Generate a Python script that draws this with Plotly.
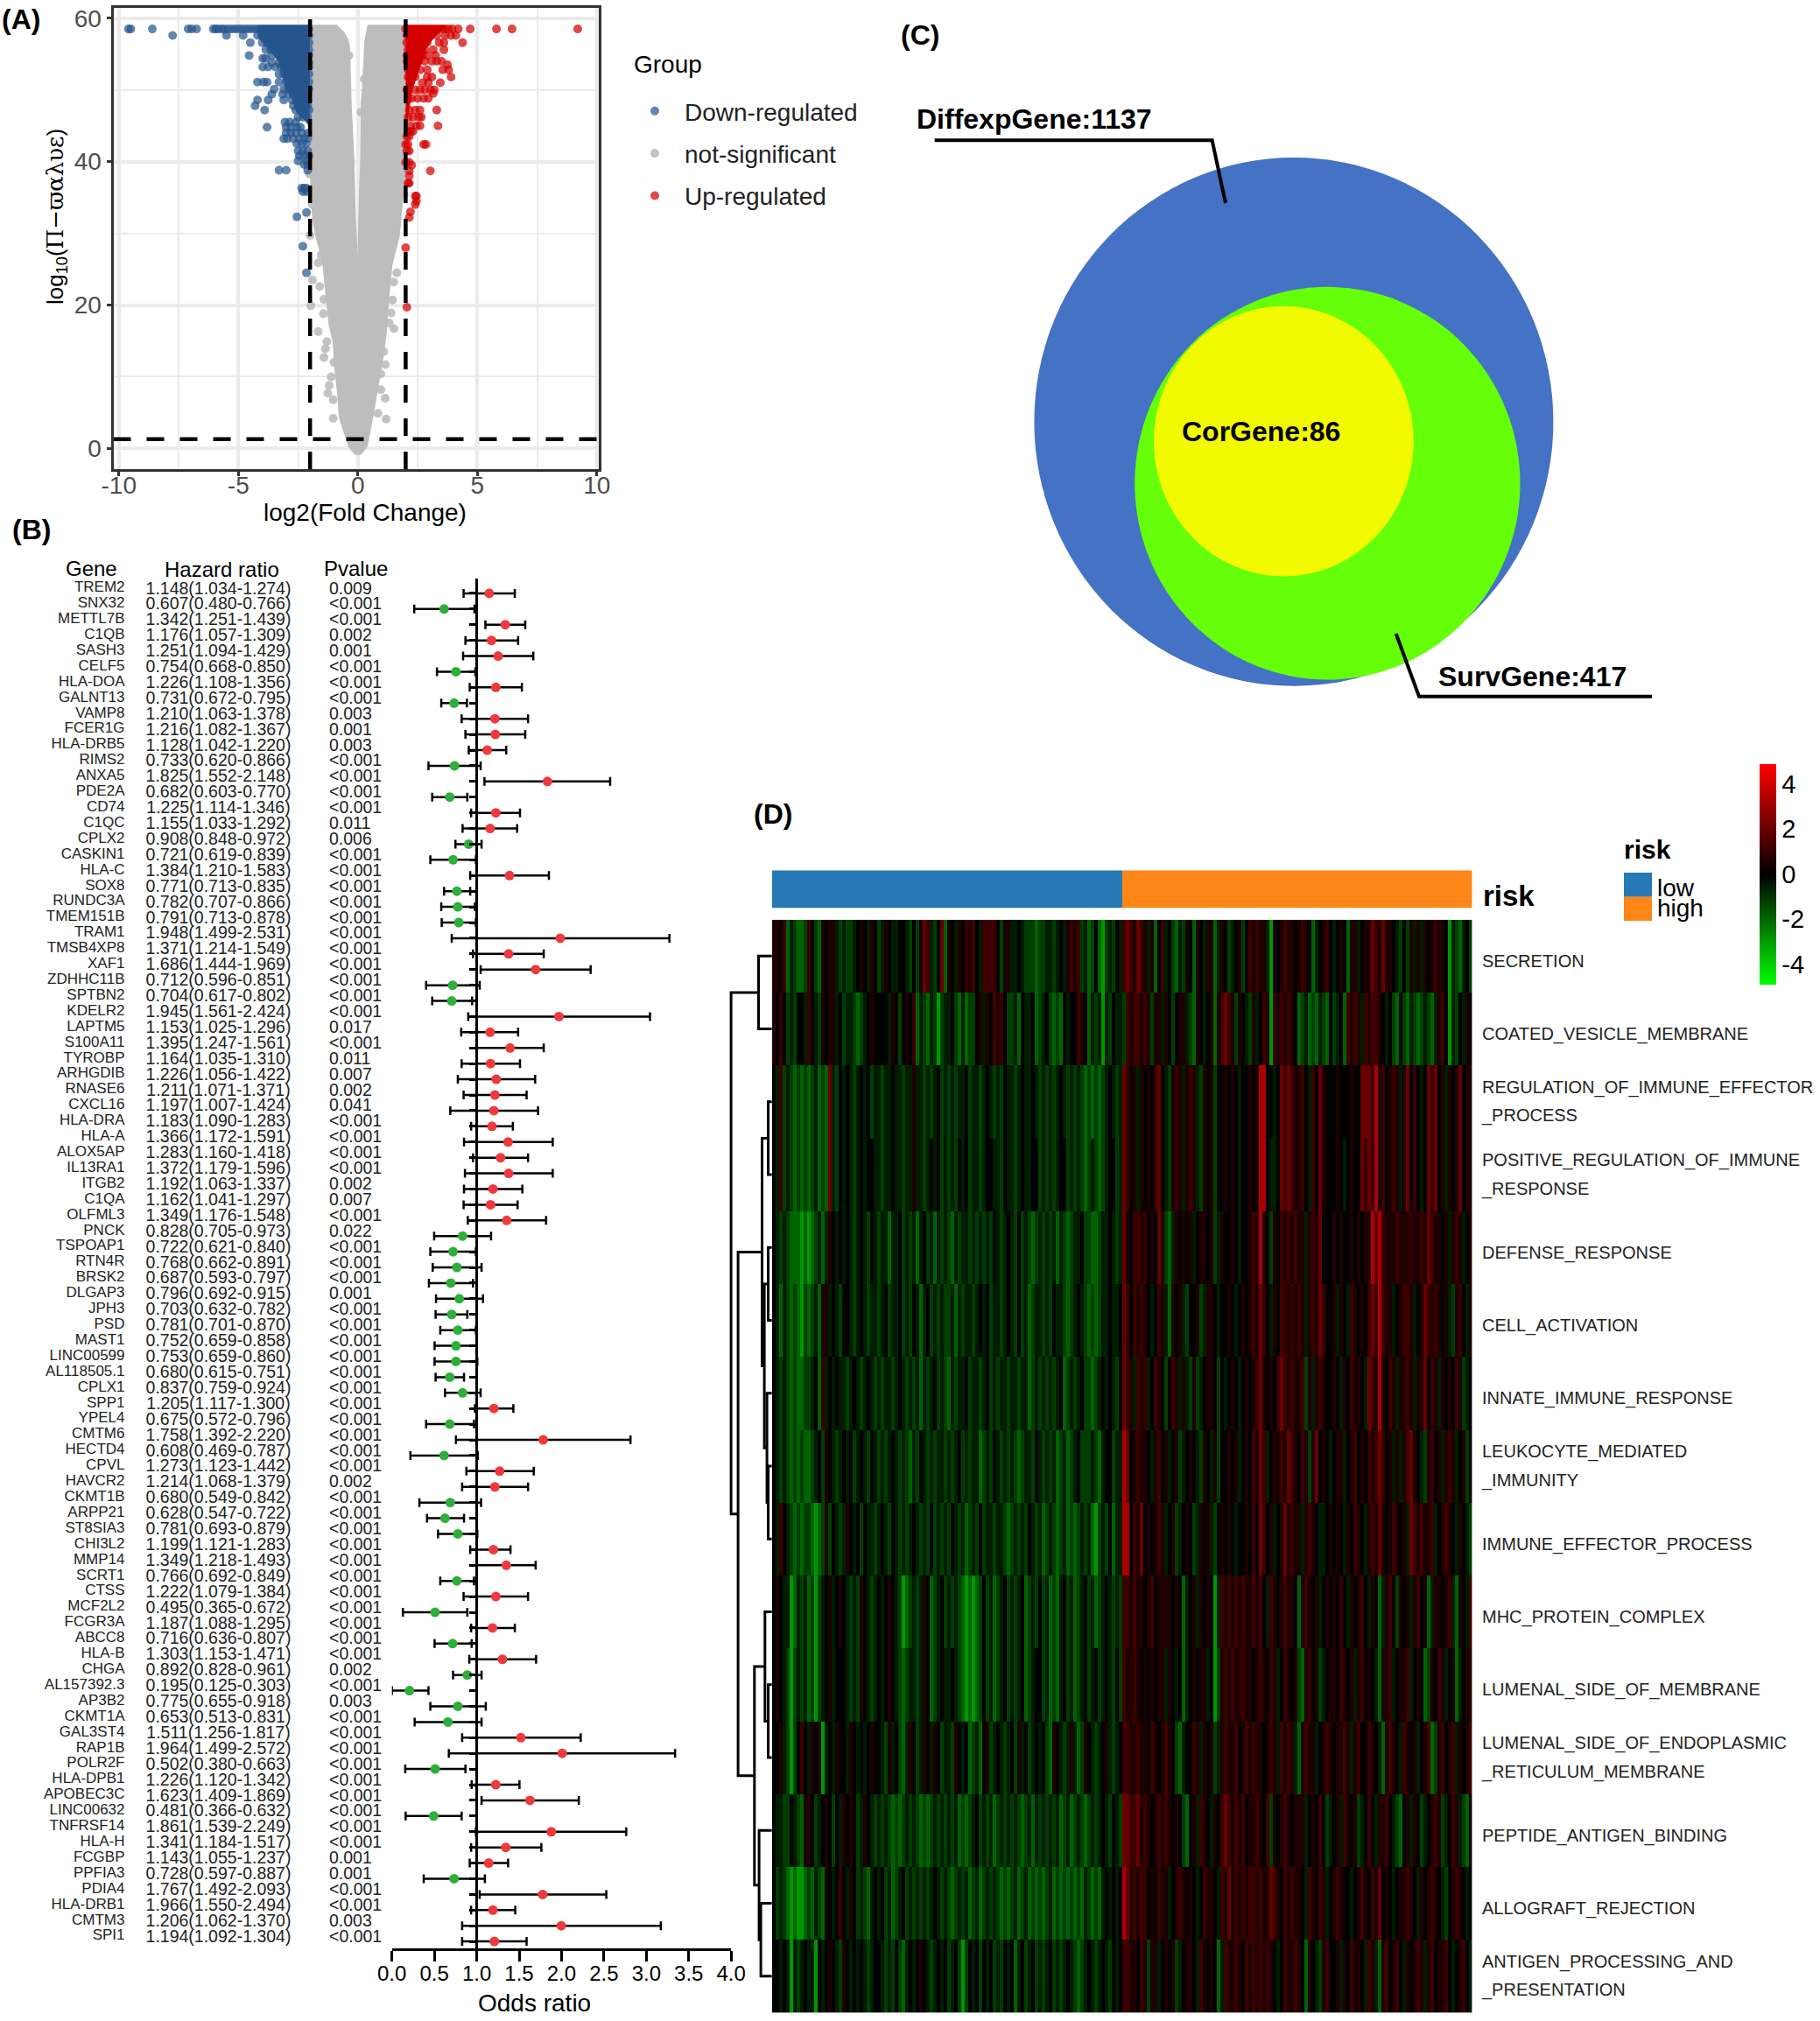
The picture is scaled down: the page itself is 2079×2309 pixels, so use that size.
import plotly.graph_objects as go

W, H = 2079, 2309
SANS = "Liberation Sans"

# ---------- Panel A: volcano ----------
down_levels = {
    58.5: [-9.6,-9.5,-8.6,-7.1,-6.95,-6.75,-6.05,-5.95,-5.85,-5.7,-5.6,-5.45,-5.3,-5.15,-5.0,-4.85,-4.7,-4.55,-4.4,-4.25,-4.1,-3.95,-3.8,-3.65,-3.5,-3.35,-3.2,-3.05,-2.9,-2.75,-2.6,-2.45,-2.3,-2.15,-2.05],
    57.6: [-7.75,-5.5,-4.8,-4.2,-4.0,-3.8,-3.6,-3.4,-3.2,-3.0,-2.8,-2.6,-2.4,-2.2,-2.05],
    56.6: [-4.5,-4.0,-3.8,-3.6,-3.4,-3.2,-3.0,-2.8,-2.6,-2.4,-2.2,-2.05],
    55.6: [-3.85,-3.65,-3.4,-3.2,-3.0,-2.8,-2.6,-2.4,-2.2,-2.05],
    54.8: [-4.55,-3.6,-3.3,-3.1,-2.9,-2.7,-2.5,-2.3,-2.05],
    54.4: [-3.98,-3.86],
    53.8: [-3.6,-3.3,-3.05,-2.85,-2.65,-2.45,-2.25,-2.05],
    53.2: [-3.98,-3.75,-3.45,-3.2,-3.0,-2.8,-2.6,-2.4,-2.2,-2.05],
    52.2: [-3.3,-3.1,-2.9,-2.7,-2.5,-2.3,-2.05],
    51.1: [-4.2,-3.95,-3.8,-3.3,-3.0,-2.8,-2.6,-2.4,-2.2,-2.05],
    50.1: [-3.5,-3.1,-2.9,-2.7,-2.5,-2.3,-2.05],
    49.4: [-3.6,-3.15,-2.9,-2.7,-2.5,-2.3,-2.1],
    48.6: [-4.2,-3.75,-3.1,-2.75,-2.55,-2.35,-2.1],
    47.8: [-4.3,-2.7,-2.5,-2.3,-2.1],
    47.2: [-3.9,-2.6,-2.4,-2.2,-2.05],
    46.2: [-2.5,-2.3,-2.1],
    45.5: [-3.05,-2.85,-2.6],
    44.8: [-3.8,-3.0,-2.8,-2.55,-2.4],
    44.0: [-3.0,-2.8,-2.6,-2.35,-2.1],
    43.2: [-3.1,-2.95,-2.7,-2.45,-2.25,-2.1],
    42.5: [-2.55,-2.35,-2.15],
    41.5: [-2.5,-2.3,-2.1],
    40.8: [-2.45,-2.25,-2.05],
    40.1: [-2.5,-2.15],
    39.6: [-2.25,-2.1],
    38.8: [-3.3,-3.0,-2.1],
    36.3: [-2.35,-2.25,-2.15],
    35.8: [-2.3,-2.15],
    32.9: [-2.15],
    32.3: [-2.55],
    28.2: [-2.3],
    24.5: [-2.15],
}
up_levels = {
    58.5: [2.0,2.15,2.3,2.45,2.6,2.75,2.9,3.05,3.2,3.35,3.5,3.65,3.8,3.95,4.2,4.7,5.8,6.45,9.2],
    57.6: [2.05,2.25,2.45,2.65,2.85,3.05,3.3,3.65,3.9,4.1],
    56.6: [2.05,2.25,2.45,2.65,2.9,3.4,3.6,4.38],
    55.6: [2.1,2.3,2.5,2.8,3.15,3.6],
    54.8: [2.05,2.25,2.45,2.7,2.9,3.25],
    54.0: [2.05,2.3,2.55,2.8,3.1,3.3,3.5],
    53.5: [3.75],
    52.8: [2.1,2.3,2.6,2.9,3.55,3.8],
    51.8: [2.1,2.4,2.9,3.1,3.9],
    51.0: [2.7,2.95,3.45],
    50.0: [2.05,2.4,2.6,2.8,3.05,3.2],
    49.5: [3.15],
    48.8: [2.1,2.25,2.5,2.75,2.95],
    47.2: [2.15,2.4,2.6,3.3],
    46.2: [2.1,2.3,2.55,2.65],
    45.0: [2.2,2.45,2.6,3.35],
    44.2: [2.1,2.2,2.3],
    43.5: [2.05,2.15],
    42.4: [2.0,2.1,2.75,2.85],
    41.5: [2.05,2.15],
    39.9: [2.0,2.15],
    39.5: [2.25],
    38.7: [2.15,3.03],
    38.0: [2.15],
    37.0: [2.1,2.15],
    35.2: [2.4,2.45],
    34.5: [2.45],
    34.0: [2.4],
    33.0: [2.2],
    32.2: [2.15],
    28.0: [2.0],
    19.7: [2.05],
}
down_dense_x = [-2.0,-4.15,-4.15,-3.65,-3.3,-3.15,-2.95,-2.75,-2.55,-2.25,-2.0]
down_dense_y = [58.9,58.9,57.4,55.5,54,52,50,49,47,46,45]
up_dense_x = [2.0,3.65,3.2,2.85,2.65,2.45,2.25,2.15,2.05,2.0]
up_dense_y = [58.9,58.9,57.5,56,54,52,50,48,46,44]
ns_edge_x = [-1.97,-0.9,-0.62,-0.45,-0.38,-0.36,-0.32,-0.26,-0.2,-0.17,-0.14,-0.08,-0.04,-0.02,0.0,0.05,0.07,0.1,0.15,0.17,0.17,0.22,0.29,0.33,0.45,1.94,1.96,1.93,1.85,1.75,1.69,1.5,1.39,1.27,1.2,1.15,1.03,0.84,0.65,0.48,0.35,0.1,-0.1,-0.35,-0.5,-0.74,-0.8,-0.93,-1.0,-1.17,-1.3,-1.42,-1.55,-1.72,-1.85,-1.9,-1.95,-1.97]
ns_edge_y = [58.9,58.9,58,57,56,52,48.5,44.4,40.3,36.3,32.2,28,22,14.9,22,28,32,36,40,44,48,50,54,57,58.9,58.9,42,38,35,32,29.5,27,25.5,21.4,18,16,13,9,5.5,2.5,0.3,-0.7,-0.7,0.3,1.9,4.3,7.2,11.2,14.9,17.3,21.4,25.5,27.5,29.5,32,34,38,42]
ns_x = [-0.38,0.26,0.13,-2.03,-1.9,-2.0,1.63,2.0,1.94,-1.9,-1.97,-1.6,-1.54,-1.66,-1.42,-1.44,-1.66,-1.3,-1.36,-1.42,-1.12,-1.2,-1.26,-1.03,-1.03,-1.0,1.63,1.5,1.45,1.39,1.51,1.31,1.08,1.15,0.96,1.14,0.84,1.18,0.96]
ns_y = [54.8,51.5,46.9,38.3,34.0,29.7,31.2,37.0,35.4,23.5,19.9,22.6,27.0,25.9,20.8,18.8,16.3,14.9,13.9,12.7,10.0,8.8,7.7,6.8,4.2,12.0,24.5,23.2,20.7,18.9,16.7,17.5,13.5,11.7,8.2,7.0,4.9,4.1,10.4]
fc_cuts = [-2, 2]
p_cut = 1.3

# ---------- Panel B: forest ----------
genes = ["TREM2","SNX32","METTL7B","C1QB","SASH3","CELF5","HLA-DOA","GALNT13","VAMP8","FCER1G","HLA-DRB5","RIMS2","ANXA5","PDE2A","CD74","C1QC","CPLX2","CASKIN1","HLA-C","SOX8","RUNDC3A","TMEM151B","TRAM1","TMSB4XP8","XAF1","ZDHHC11B","SPTBN2","KDELR2","LAPTM5","S100A11","TYROBP","ARHGDIB","RNASE6","CXCL16","HLA-DRA","HLA-A","ALOX5AP","IL13RA1","ITGB2","C1QA","OLFML3","PNCK","TSPOAP1","RTN4R","BRSK2","DLGAP3","JPH3","PSD","MAST1","LINC00599","AL118505.1","CPLX1","SPP1","YPEL4","CMTM6","HECTD4","CPVL","HAVCR2","CKMT1B","ARPP21","ST8SIA3","CHI3L2","MMP14","SCRT1","CTSS","MCF2L2","FCGR3A","ABCC8","HLA-B","CHGA","AL157392.3","AP3B2","CKMT1A","GAL3ST4","RAP1B","POLR2F","HLA-DPB1","APOBEC3C","LINC00632","TNFRSF14","HLA-H","FCGBP","PPFIA3","PDIA4","HLA-DRB1","CMTM3","SPI1"]
hr_text = ["1.148(1.034-1.274)","0.607(0.480-0.766)","1.342(1.251-1.439)","1.176(1.057-1.309)","1.251(1.094-1.429)","0.754(0.668-0.850)","1.226(1.108-1.356)","0.731(0.672-0.795)","1.210(1.063-1.378)","1.216(1.082-1.367)","1.128(1.042-1.220)","0.733(0.620-0.866)","1.825(1.552-2.148)","0.682(0.603-0.770)","1.225(1.114-1.346)","1.155(1.033-1.292)","0.908(0.848-0.972)","0.721(0.619-0.839)","1.384(1.210-1.583)","0.771(0.713-0.835)","0.782(0.707-0.866)","0.791(0.713-0.878)","1.948(1.499-2.531)","1.371(1.214-1.549)","1.686(1.444-1.969)","0.712(0.596-0.851)","0.704(0.617-0.802)","1.945(1.561-2.424)","1.153(1.025-1.296)","1.395(1.247-1.561)","1.164(1.035-1.310)","1.226(1.056-1.422)","1.211(1.071-1.371)","1.197(1.007-1.424)","1.183(1.090-1.283)","1.366(1.172-1.591)","1.283(1.160-1.418)","1.372(1.179-1.596)","1.192(1.063-1.337)","1.162(1.041-1.297)","1.349(1.176-1.548)","0.828(0.705-0.973)","0.722(0.621-0.840)","0.768(0.662-0.891)","0.687(0.593-0.797)","0.796(0.692-0.915)","0.703(0.632-0.782)","0.781(0.701-0.870)","0.752(0.659-0.858)","0.753(0.659-0.860)","0.680(0.615-0.751)","0.837(0.759-0.924)","1.205(1.117-1.300)","0.675(0.572-0.796)","1.758(1.392-2.220)","0.608(0.469-0.787)","1.273(1.123-1.442)","1.214(1.068-1.379)","0.680(0.549-0.842)","0.628(0.547-0.722)","0.781(0.693-0.879)","1.199(1.121-1.283)","1.349(1.218-1.493)","0.766(0.692-0.849)","1.222(1.079-1.384)","0.495(0.365-0.672)","1.187(1.088-1.295)","0.716(0.636-0.807)","1.303(1.153-1.471)","0.892(0.828-0.961)","0.195(0.125-0.303)","0.775(0.655-0.918)","0.653(0.513-0.831)","1.511(1.256-1.817)","1.964(1.499-2.572)","0.502(0.380-0.663)","1.226(1.120-1.342)","1.623(1.409-1.869)","0.481(0.366-0.632)","1.861(1.539-2.249)","1.341(1.184-1.517)","1.143(1.055-1.237)","0.728(0.597-0.887)","1.767(1.492-2.093)","1.966(1.550-2.494)","1.206(1.062-1.370)","1.194(1.092-1.304)"]
pvals = ["0.009","<0.001","<0.001","0.002","0.001","<0.001","<0.001","<0.001","0.003","0.001","0.003","<0.001","<0.001","<0.001","<0.001","0.011","0.006","<0.001","<0.001","<0.001","<0.001","<0.001","<0.001","<0.001","<0.001","<0.001","<0.001","<0.001","0.017","<0.001","0.011","0.007","0.002","0.041","<0.001","<0.001","<0.001","<0.001","0.002","0.007","<0.001","0.022","<0.001","<0.001","<0.001","0.001","<0.001","<0.001","<0.001","<0.001","<0.001","<0.001","<0.001","<0.001","<0.001","<0.001","<0.001","0.002","<0.001","<0.001","<0.001","<0.001","<0.001","<0.001","<0.001","<0.001","<0.001","<0.001","<0.001","0.002","<0.001","0.003","<0.001","<0.001","<0.001","<0.001","<0.001","<0.001","<0.001","<0.001","<0.001","0.001","0.001","<0.001","<0.001","0.003","<0.001"]
or_mid = [1.147,0.615,1.337,1.174,1.253,0.755,1.225,0.733,1.214,1.219,1.124,0.738,1.834,0.682,1.225,1.158,0.906,0.721,1.387,0.766,0.777,0.789,1.985,1.376,1.695,0.716,0.705,1.969,1.158,1.393,1.163,1.23,1.214,1.202,1.18,1.37,1.281,1.376,1.191,1.163,1.353,0.833,0.721,0.766,0.694,0.794,0.705,0.777,0.755,0.755,0.682,0.833,1.202,0.682,1.784,0.615,1.27,1.214,0.688,0.626,0.777,1.197,1.348,0.766,1.225,0.509,1.186,0.716,1.303,0.889,0.207,0.777,0.66,1.521,2.008,0.509,1.225,1.628,0.492,1.879,1.342,1.141,0.733,1.778,1.191,1.997,1.208]
or_lo = [0.845,0.263,1.102,0.867,0.839,0.531,0.917,0.582,0.822,0.867,0.906,0.431,1.091,0.475,0.934,0.833,0.749,0.453,0.923,0.615,0.582,0.587,0.705,0.956,1.046,0.403,0.475,0.9,0.817,1.001,0.822,0.777,0.845,0.688,0.934,0.85,0.956,0.861,0.85,0.845,0.895,0.498,0.453,0.481,0.436,0.52,0.515,0.57,0.503,0.503,0.515,0.626,0.979,0.403,0.755,0.218,0.878,0.828,0.324,0.414,0.543,0.923,1.001,0.57,0.845,0.129,0.934,0.503,0.912,0.721,0.0,0.453,0.268,0.828,0.671,0.157,0.94,1.057,0.162,0.99,0.934,0.917,0.375,1.035,0.934,0.828,0.828]
or_hi = [1.449,0.973,1.572,1.488,1.667,0.984,1.532,0.884,1.605,1.572,1.348,1.046,2.573,0.889,1.51,1.477,1.057,0.99,1.851,0.923,0.979,0.99,3.272,1.79,2.343,1.035,0.945,3.043,1.488,1.79,1.51,1.689,1.588,1.723,1.426,1.896,1.605,1.896,1.538,1.482,1.818,1.169,0.99,1.057,0.956,1.074,0.889,0.99,1.001,1.007,0.85,1.046,1.432,0.968,2.813,1.012,1.672,1.605,1.051,0.85,1.007,1.398,1.695,0.968,1.605,0.889,1.449,0.94,1.7,1.057,0.431,1.107,1.057,2.226,3.339,0.867,1.504,2.204,0.822,2.763,1.762,1.37,1.096,2.528,1.454,3.171,1.588]
or_ticks = [0.0,0.5,1.0,1.5,2.0,2.5,3.0,3.5,4.0]

# ---------- Panel C: nested sets (bounds read in picture units) ----------
set_fill = ["#4472C4", "#66FF0A", "#F2FA02"]
set_left = [1181.4, 1296.2, 1318.0]
set_right = [1774.4, 1736.5, 1614.8]
set_top = [180.0, 327.8, 349.8]
set_bottom = [783.8, 776.6, 658.4]
lead1_x = [1067.7, 1384.6, 1400.0]
lead1_y = [160.3, 160.3, 232.0]
lead2_x = [1594.7, 1621.0, 1887.0]
lead2_y = [724.0, 795.7, 795.7]

# ---------- Panel D: heat map (one letter per stripe) ----------
stripe_value = {"G":-2.9,"g":-1.9,"d":-1.2,"k":-0.55,"0":0.0,"r":0.6,"s":1.15,"t":2.0,"T":3.3}
ROW_00_LOW  = "rr0sgkdggd s0dgr0rrkd kddk0r0kr0 dkr0kk00kd 0drtskd0tg r0kr0srs0k ssss0drrkk 0kdddgddkk dk0krsrsdk gd0gGdkd0k"
ROW_00_HIGH = "stsrtsrkrg 0sk0dgkdr0 gr0krrgkr0 dk0rd0srsr rkGr0rsrr0 rsr0gk0rs0 k0r0grrk0r rtsrtrr0kd 0drkrkr0rs rr0Gkdgk0d"
ROW_01_LOW  = "r0s0dkd00k s0kdr0rrk0 dkkdgdk0r0 000kr0d0r0 sgkdgkdGdk k0dgkgdd0r kr0srs0ddk g0kk0gdk0d gdg0k00sr0 gkdkGkd0kk"
ROW_01_HIGH = "dsrssrsrdr rkr0d0rrkd gr0k0rgrst srdr0kdrk0 srGsrsrsr0 gdkgdgkdg0 dk0gsrsrks rssr0k0dg0 dgkdgdkdgk rs0Gkd0kr0"
ROW_02_LOW  = "0ksdkdgdgd gdkgdgtkd0 k0kdk0k0dk kdkk0kkdkk rkkdkdk0dk dkdkk0dkkd k0kdkd0kkd k0kk0kdkdk dk0kdkdkdg dgdgdk0kdk"
ROW_02_HIGH = "ts0rkr0r0s t0kdrsrkrs rkdr0rd00r 0r0k00r0rT T00k0tstsr rs0ks0tr00 0r000r00tt tsTrs0rsrk rt0s0k0tst 0rkr0rt0rr"
ROW_03_LOW  = "0ksdkdgdgd gdkgdgtkd0 k0kdk0k00k kdkk0kkdkk rkkdk0k0dk dkd0k0dkkd k00kkd0kkd k0kk00dkdk dk00dkdkdg dkdgdk00dk"
ROW_03_HIGH = "ts0rkr0r0s t0kdrsrkrs rkdr0rd00r 0r0k00r0rT T0kk0tstsr rs0ks0tr00 0r0k0r00ts tsTrs0rsrk rt0s0k0tst 0rkr0rt0rr"
ROW_04_LOW  = "0kdkdgggGg Ggdkgkr0k0 k0kdk0kd0k dkkgkk0dkd kgk0dkgkdk dgkdkkdkdk dkd0kdk0kd 0dkdgdkdkd kgkdgdkk0d dggdkk0kdk"
ROW_04_HIGH = "tr0ssrs0r0 trdgkr0r0r k0rr0rdkr0 0r0k00rsrT r0dr0srsrs rrkrsrt000 r0r00r0r0r rTtTsrrrsr rrsrrsrtsr r0rkrsrk0r"
ROW_05_LOW  = "0kgkdgdgGd gdkgrrk0kd 00kdk0kdkk dk0dkk0dkd 0kgk0dkdkd dkgkdkkdk0 k0dkkdk0kd 0dkgdkkdkd 0kkdgdk0kd gdgdkk0kk0"
ROW_05_HIGH = "ts0srsr0k0 srkgr0rkd0 0rdkrr0k00 r0k0r0rsrt s0kr0ssrsr srkrsrts00 rkr0ksr0r0 stsTsrrk0r ssrk0rtsrs r0rkdrs0kr"
ROW_06_LOW  = "0kdkdgdggd dk0gsk0k0k kdk0kdk0kd kdkkdk0kdk dkgkdk0dkd gkdkk0dkkd k0dkdkkdkk dkkgdkdkdk dk0gdkdk0d dgdk0k0kd0"
ROW_06_HIGH = "tsrksrsk0s r0d0srkrkd rdk0rr0d0k 0r0k0r0rst r0r0stsrsr rsdrkrsr00 r0kr0srr0k tsrTr0srkr rsrkrrt0sr kr0r0srdk0"
ROW_07_LOW  = "0kdkdgdgdg gdk0dr0kdk 0k0dk0kd0k dkdk0kdkdg kd0kdkdkkd kdk0dkdkkg dkd0kdkdkd gdkkd0kdkd kgdkgdk0dd dkdgk00dkk"
ROW_07_HIGH = "Tt0rsrr0kr s0rk0rdk0r 0kdr0krd00 r0rk0r0srt sk0rrsrtsr 0srdrt0r0k 0rrk0rs0r0 srsts0rkrk rstr0kdrs0 rkrsrk0rd0"
ROW_08_LOW  = "0ks0kdgdgd dgGgdrd0kd kr0k0d0kkd k0kd0kdkdk 0kdkd0dkdk d0kdkgdkd0 dkkdkkdgdk dkd0kdkgdk dgdkgdgdkd kgGdkd0gkk"
ROW_08_HIGH = "TT0srt0r0r srk0rdk0r0 dkr0rkd0r0 r0k00r0s0t s0rk0rtrsr rkrsr0kk0r 0r0kr0sr0k rsrtr0rsr0 rktsrsrrsk 0rsr0kr0kd"
ROW_09_LOW  = "0r0kkGgkdk gdGdk0rk0r 0kdkdr0kdk 0k0r0kdGgd kdkr0gdk0d kdkdgGgGgd 0dkgdk0dkd k0gdkd0dkg dgk0dkgdk0 dkgdk0kdkd"
ROW_09_HIGH = "ssrsrr0rs0 rrrr0r0gk0 rkr0r0Gksr srsrsrrsrs 0ksr0rsrr0 grsr0rk0r0 r0s0kr0rs0 kr0gkrs0dr 0rkrs0rgkr r0rskgr0ks"
ROW_10_LOW  = "0r0kdGdkdk gdGdk0rk00 0kdkdr0kdk 0k0r0kdgdk kdkr0gdk0k k0kdgGgGgd 0dkgdk0dkd k0gdk00dkg dgk0dkgdk0 dk0dk0kd0d"
ROW_10_HIGH = "srrsr0r0r0 rrkr0k0gk0 r0rrk0Gdrs rsrrsrr0rs r0srk0sr0r dgrs0rdk0r r0sr0rkrs0 r0kgrrsk0r rsk0r0gdr0 srk0rgk0rr"
ROW_11_LOW  = "00rkdGd0s0 kr0rGk0kr0 0kr0k0k0r0 0kdrk0dgkr 0dkr0kr0dk kdr0k0gdkg 0rdk0kdk0d rk0dk0k0dg r0kdkrkgdr 0kdk0rkdk0"
ROW_11_HIGH = "ssrrsrr0sr 0rsr0dgk00 srkr0rdkrs rrs0rsrsrr 0rsrksrsrk grsrrk0rsr 0rrsrkrs00 sr0kgrsr0k sr0rk0rsgd rs0rskr0rs"
ROW_12_LOW  = "0kkdd0kdgr r0dk0r0d0k r0r0dkr0kd kdkdgdgdkd kdgdgdkdkd kdkgdgdk0d kdkgdkdkdk dgdkgkdkdk dkgdkgdkdg dkdk0kd0kd"
ROW_12_HIGH = "ttsstrsr0r srsr0r0dg0 rksr0kr0st srsrs0rrsr 0sdr0rsr0r rrk0r0s0dk 0rksr0rdk0 s0krrs0kdg 0rkr0dk0rs rdk0srkdg0"
ROW_13_LOW  = "0dkdgGgGGg dgkdgr0k0s 0kr0dkdgk0 k0dkgdk0dk dkdkdk0kdk dgdkdkgdkg dkdkdgdgdk gdkgdgdgdk gdgdgdgdgk dgdgk0k0k0"
ROW_13_HIGH = "Ttrsrss0r0 srrk0rsr0r 0k0srr0ksr trsrsrssrs rrtsr0srsr r0ksr0srk0 rsr00k0rsr 0srt0r0k0r rsr0kr0rsr 0kd0rsr0k0"
ROW_14_LOW  = "00k0kGkdk0 kkG0k0r0kd r0k0k0kdk0 0kdkd0dgk0 k0r0kdk0k0 dk0dGd0k0d 0k0dkd0k0g k0dk0dkdk0 dkdk0kdgdk 0kdk0kd0k0"
ROW_14_HIGH = "ssrr0srdrr k0r0rdk0rr 0ksr0r0gks rrsr0srsrs rsr0k0srrs r0gr0kdrs0 0rkr0srr0k srkgrs0rs0 kr0rsrkrs0 rrs0k0rs0k"

heat_rows = [
    (ROW_00_LOW, ROW_00_HIGH), (ROW_01_LOW, ROW_01_HIGH), (ROW_02_LOW, ROW_02_HIGH),
    (ROW_03_LOW, ROW_03_HIGH), (ROW_04_LOW, ROW_04_HIGH), (ROW_05_LOW, ROW_05_HIGH),
    (ROW_06_LOW, ROW_06_HIGH), (ROW_07_LOW, ROW_07_HIGH), (ROW_08_LOW, ROW_08_HIGH),
    (ROW_09_LOW, ROW_09_HIGH), (ROW_10_LOW, ROW_10_HIGH), (ROW_11_LOW, ROW_11_HIGH),
    (ROW_12_LOW, ROW_12_HIGH), (ROW_13_LOW, ROW_13_HIGH), (ROW_14_LOW, ROW_14_HIGH),
]
pathways = ["SECRETION","COATED_VESICLE_MEMBRANE","REGULATION_OF_IMMUNE_EFFECTOR<br>_PROCESS","POSITIVE_REGULATION_OF_IMMUNE<br>_RESPONSE","DEFENSE_RESPONSE","CELL_ACTIVATION","INNATE_IMMUNE_RESPONSE","LEUKOCYTE_MEDIATED<br>_IMMUNITY","IMMUNE_EFFECTOR_PROCESS","MHC_PROTEIN_COMPLEX","LUMENAL_SIDE_OF_MEMBRANE","LUMENAL_SIDE_OF_ENDOPLASMIC<br>_RETICULUM_MEMBRANE","PEPTIDE_ANTIGEN_BINDING","ALLOGRAFT_REJECTION","ANTIGEN_PROCESSING_AND<br>_PRESENTATION"]
risk_low_count = 100
risk_high_count = 100
# dendrogram merges: children (row 0-14, later nodes 15+) and join height
dend_left  = [0, 2, 4, 7, 6, 17, 16, 10, 9, 13, 12, 23, 21, 15]
dend_right = [1, 3, 5, 8, 18, 19, 20, 11, 22, 14, 24, 25, 26, 27]
dend_height = [15.3, 4.3, 4.3, 4.3, 5.7, 8.7, 11.3, 4.3, 8.0, 12.7, 14.7, 20.0, 38.7, 46.7]


def dom_x(a, b):
    return [a / W, b / W]


def dom_y(top, bottom):
    return [1 - bottom / H, 1 - top / H]


annotations = []


def note(px, py, text, size, family=SANS, anchor="center", color="black", angle=0):
    annotations.append(dict(x=px / W, y=1 - py / H, xref="paper", yref="paper", text=text, showarrow=False,
                            xanchor=anchor, yanchor="middle", textangle=angle,
                            font=dict(family=family, size=size, color=color)))


fig = go.Figure()

# --- A ---
def flatten(levels):
    xs, ys = [], []
    for level, values in levels.items():
        for v in values:
            xs.append(v)
            ys.append(level)
    return xs, ys


fig.add_trace(go.Scatter(x=ns_edge_x, y=ns_edge_y, mode="lines", fill="toself", fillcolor="#bdbdbd",
                         line=dict(color="#bdbdbd", width=3), showlegend=False, hoverinfo="skip"))
fig.add_trace(go.Scatter(x=ns_x, y=ns_y, mode="markers", name="not-significant", legendgroup="b", legendrank=2,
                         marker=dict(color="#bdbdbd", size=10, opacity=0.9)))
fig.add_trace(go.Scatter(x=down_dense_x, y=down_dense_y, mode="lines", fill="toself", fillcolor="#2a5488",
                         line=dict(color="#2a5488", width=2), showlegend=False, hoverinfo="skip"))
fig.add_trace(go.Scatter(x=up_dense_x, y=up_dense_y, mode="lines", fill="toself", fillcolor="#cc0000",
                         line=dict(color="#cc0000", width=2), showlegend=False, hoverinfo="skip"))
dx_, dy_ = flatten(down_levels)
fig.add_trace(go.Scatter(x=dx_, y=dy_, mode="markers", name="Down-regulated", legendgroup="a", legendrank=1,
                         marker=dict(color="#27568f", size=10, opacity=0.72)))
ux_, uy_ = flatten(up_levels)
fig.add_trace(go.Scatter(x=ux_, y=uy_, mode="markers", name="Up-regulated", legendgroup="c", legendrank=3,
                         marker=dict(color="#d40000", size=10, opacity=0.72)))
x_rng = [-10.23, 10.08]
y_rng = [-2.88, 61.44]
for c in fc_cuts:
    fig.add_trace(go.Scatter(x=[c, c], y=y_rng, mode="lines", showlegend=False, hoverinfo="skip",
                             line=dict(color="black", width=4.5, dash="20px,18px")))
fig.add_trace(go.Scatter(x=x_rng, y=[p_cut, p_cut], mode="lines", showlegend=False, hoverinfo="skip",
                         line=dict(color="black", width=4.5, dash="20px,18px")))
grid = "#ebebeb"
fig.update_layout(
    xaxis=dict(domain=dom_x(129.5, 684), range=x_rng, anchor="y", tickvals=[-10, -5, 0, 5, 10],
               ticktext=["-10", "-5", "0", "5", "10"], tickfont=dict(family=SANS, size=28, color="#4d4d4d"),
               showgrid=True, gridcolor=grid, gridwidth=4, zeroline=False, showline=True, mirror=True,
               linecolor="#333333", linewidth=3, ticks="outside", ticklen=5, tickwidth=3, tickcolor="#333333",
               ticklabelstandoff=-14,
               minor=dict(tickvals=[-7.5, -2.5, 2.5, 7.5], showgrid=True, gridcolor=grid, gridwidth=2, ticks="")),
    yaxis=dict(domain=dom_y(9, 536), range=y_rng, anchor="x", tickvals=[0, 20, 40, 60],
               tickfont=dict(family=SANS, size=28, color="#4d4d4d"),
               showgrid=True, gridcolor=grid, gridwidth=4, zeroline=False, showline=True, mirror=True,
               linecolor="#333333", linewidth=3, ticks="outside", ticklen=5, tickwidth=3, tickcolor="#333333",
               minor=dict(tickvals=[10, 30, 50], showgrid=True, gridcolor=grid, gridwidth=2, ticks="")),
)
note(417, 585, "log2(Fold Change)", 28)
note(64, 248, "log<sub>10</sub>(<span style=\"font-family:'DejaVu Serif'\">Π−ϖαλυε</span>)", 26, angle=-90)
note(763, 74, "Group", 28)
note(0, 22, "<b>(A)</b>", 32, anchor="left")
note(12, 605, "<b>(B)</b>", 32, anchor="left")
note(1027, 40, "<b>(C)</b>", 32, anchor="left")
note(859, 930, "<b>(D)</b>", 32, anchor="left")

# --- B ---
rows = list(range(len(genes)))
row_range = [86.44, -0.944]
is_up = [m >= 1 for m in or_mid]
for flag, col in ((False, "#2eae3a"), (True, "#ee3a3e")):
    idx = [i for i in rows if is_up[i] == flag]
    fig.add_trace(go.Scatter(
        x=[or_mid[i] for i in idx], y=idx, mode="markers", xaxis="x2", yaxis="y2", showlegend=False,
        cliponaxis=False, marker=dict(color=col, size=11),
        error_x=dict(type="data", symmetric=False, array=[or_hi[i] - or_mid[i] for i in idx],
                     arrayminus=[or_mid[i] - or_lo[i] for i in idx], color="black", thickness=2.5, width=5)))
table_font = dict(family=SANS, size=19.5, color="#222222")
fig.add_trace(go.Scatter(x=[142.5] * len(genes), y=[r - 0.33 for r in rows], text=genes, mode="text",
                         textposition="middle left", textfont=dict(family=SANS, size=17, color="#222222"),
                         xaxis="x3", yaxis="y2", showlegend=False, cliponaxis=False))
fig.add_trace(go.Scatter(x=[249.5] * len(genes), y=[r - 0.24 for r in rows], text=hr_text, mode="text",
                         textposition="middle center", textfont=table_font,
                         xaxis="x3", yaxis="y2", showlegend=False, cliponaxis=False))
fig.add_trace(go.Scatter(x=[376] * len(genes), y=[r - 0.24 for r in rows], text=pvals, mode="text",
                         textposition="middle right", textfont=table_font,
                         xaxis="x3", yaxis="y2", showlegend=False, cliponaxis=False))
fig.update_layout(
    xaxis2=dict(domain=dom_x(447.7, 835.2), range=[0, 4], anchor="y2", tickvals=or_ticks,
                ticktext=["%.1f" % t for t in or_ticks], tickfont=dict(family=SANS, size=24, color="black"),
                showgrid=False, zeroline=False, showline=True, linecolor="black", linewidth=3,
                ticks="outside", ticklen=12, tickwidth=3, tickcolor="black", ticklabelstandoff=-7),
    yaxis2=dict(domain=dom_y(661, 2226), range=row_range, anchor="free", position=544.2 / W, tickvals=rows,
                showticklabels=False, showgrid=False, zeroline=False, showline=True, linecolor="black",
                linewidth=2.5, ticks="outside", ticklen=7, tickwidth=2.5, tickcolor="black"),
    xaxis3=dict(domain=dom_x(0, 447.7), range=[0, 447.7], anchor="y2", visible=False),
)
note(104.6, 649, "Gene", 24)
note(253, 651, "Hazard ratio", 24)
note(406.5, 649, "Pvalue", 24)
note(610, 2288, "Odds ratio", 28)

# --- C ---
venn_x_span = [1040, 1900]
venn_y_span = [830, 140]
shapes = []
for fill, a, b, t, u in zip(set_fill, set_left, set_right, set_top, set_bottom):
    shapes.append(dict(type="circle", xref="x7", yref="y7", x0=a, x1=b, y0=t, y1=u, fillcolor=fill,
                       line=dict(width=0), layer="below"))
for lx, ly in ((lead1_x, lead1_y), (lead2_x, lead2_y)):
    fig.add_trace(go.Scatter(x=lx, y=ly, mode="lines", xaxis="x7", yaxis="y7", showlegend=False, hoverinfo="skip",
                             line=dict(color="black", width=4)))
fig.update_layout(
    xaxis7=dict(domain=dom_x(1040, 1900), range=venn_x_span, anchor="y7", visible=False),
    yaxis7=dict(domain=dom_y(140, 830), range=venn_y_span, anchor="x7", visible=False),
)
note(1181, 136, "<b>DiffexpGene:1137</b>", 32)
note(1440, 493, "<b>CorGene:86</b>", 32)
note(1750, 773, "<b>SurvGene:417</b>", 32)

# --- D ---
heat_z = []
for low, high in heat_rows:
    left = low.replace(" ", "").ljust(100, "0")[:100]
    right = high.replace(" ", "").ljust(100, "0")[:100]
    heat_z.append([stripe_value[ch] for ch in left + right])
fig.add_trace(go.Heatmap(
    z=heat_z, xaxis="x4", yaxis="y4", zmin=-4.9, zmax=4.9, zsmooth=False,
    colorscale=[[0, "#00ff00"], [0.5, "#000000"], [1, "#ff0000"]],
    colorbar=dict(x=2009.7 / W, xanchor="left", y=1 - 998.5 / H, yanchor="middle", len=251.6, lenmode="pixels",
                  thickness=19.2, thicknessmode="pixels", outlinewidth=0, xpad=0, ypad=0, ticks="",
                  tickvals=[-4, -2, 0, 2, 4], ticktext=["-4", "-2", "0", "2", "4"],
                  tickfont=dict(family=SANS, size=29, color="black"))))
# row names: one text per printed line, in a text column that shares the heat map's row axis
label_x, label_y, label_text = [], [], []
for r, name in enumerate(pathways):
    parts = name.split("<br>")
    if len(parts) == 1:
        label_x.append(1693.0); label_y.append(r + 0.09); label_text.append(parts[0])
    else:
        label_x += [1693.0, 1693.0]; label_y += [r - 0.18, r + 0.21]; label_text += parts
fig.add_trace(go.Scatter(x=label_x, y=label_y, text=label_text, mode="text", textposition="middle right",
                         textfont=dict(family=SANS, size=20, color="#222222"), xaxis="x8", yaxis="y4",
                         showlegend=False, cliponaxis=False))
fig.add_trace(go.Heatmap(
    z=[[0] * risk_low_count + [1] * risk_high_count], xaxis="x5", yaxis="y5", zmin=0, zmax=1, showscale=False,
    colorscale=[[0, "#2779b5"], [0.5, "#2779b5"], [0.5, "#ff8618"], [1, "#ff8618"]]))
node_y = {i: float(i) for i in range(len(heat_rows))}
node_h = {i: 0.0 for i in range(len(heat_rows))}
den_x, den_y = [], []
for k, (a, b, h) in enumerate(zip(dend_left, dend_right, dend_height)):
    nid = len(heat_rows) + k
    den_x += [node_h[a], h, h, node_h[b], None]
    den_y += [node_y[a], node_y[a], node_y[b], node_y[b], None]
    node_y[nid] = (node_y[a] + node_y[b]) / 2
    node_h[nid] = h
fig.add_trace(go.Scatter(x=den_x, y=den_y, mode="lines", xaxis="x6", yaxis="y6", showlegend=False,
                         hoverinfo="skip", cliponaxis=False, line=dict(color="black", width=3)))
fig.update_layout(
    xaxis4=dict(domain=dom_x(881.8, 1681.5), range=[-0.5, 199.5], anchor="y4", visible=False),
    yaxis4=dict(domain=dom_y(1050.7, 2299.4), range=[14.5, -0.5], anchor="x4", visible=False),
    xaxis5=dict(domain=dom_x(881.8, 1681.5), range=[-0.5, 199.5], anchor="y5", visible=False),
    yaxis5=dict(domain=dom_y(994.3, 1037.7), range=[-0.5, 0.5], anchor="x5", visible=False),
    xaxis6=dict(domain=dom_x(830, 881.8), range=[51.8, 0], anchor="y6", visible=False),
    yaxis6=dict(domain=dom_y(1050.7, 2299.4), range=[14.5, -0.5], anchor="x6", visible=False),
    xaxis8=dict(domain=dom_x(1681.5, 2079), range=[1681.5, 2079], anchor="y4", visible=False),
)
note(1692, 1023, "<b>risk</b>", 33, anchor="left")
note(1853, 970.7, "<b>risk</b>", 30, anchor="left")
note(1891, 1014, "low", 28, anchor="left")
note(1891, 1037.7, "high", 28, anchor="left")
for color, top, bottom in (("#2779b5", 997, 1024.7), ("#ff8618", 1024.7, 1052)):
    shapes.append(dict(type="rect", xref="paper", yref="paper", x0=1855 / W, x1=1887 / W, y0=1 - bottom / H,
                       y1=1 - top / H, fillcolor=color, line=dict(width=0)))

fig.update_layout(
    width=W, height=H, margin=dict(l=0, r=0, t=0, b=0, autoexpand=False),
    paper_bgcolor="white", plot_bgcolor="rgba(0,0,0,0)",
    shapes=shapes, annotations=annotations, hovermode=False,
    legend=dict(x=714 / W, y=1 - 102 / H, xanchor="left", yanchor="top", tracegroupgap=9, itemsizing="trace",
                itemwidth=58, bgcolor="rgba(0,0,0,0)", font=dict(family=SANS, size=28, color="#222222")),
)
fig.write_html("out.html", config={"displayModeBar": False}, post_script="document.body.style.margin='0';")
